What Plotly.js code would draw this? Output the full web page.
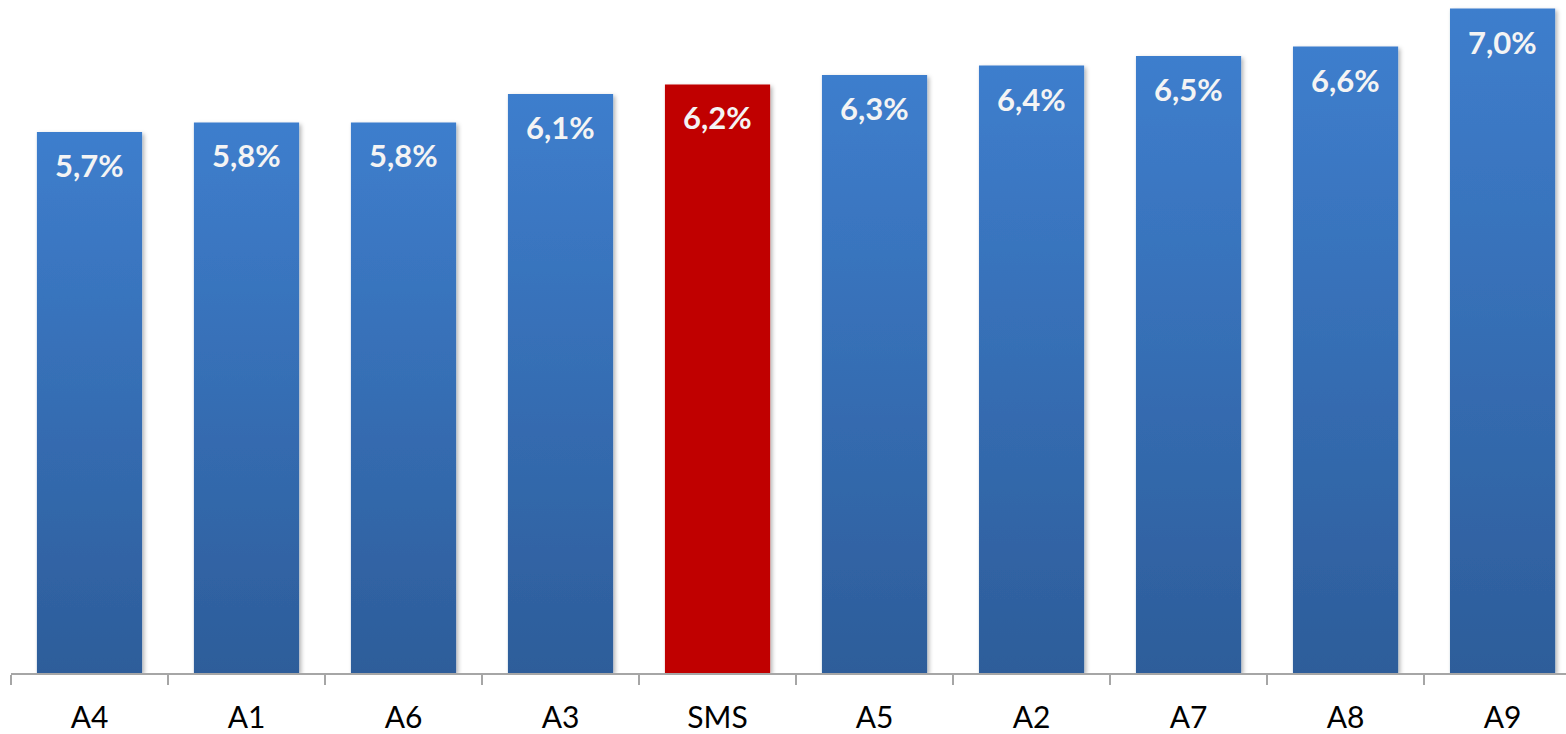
<!DOCTYPE html>
<html>
<head>
<meta charset="utf-8">
<script src="https://cdn.plot.ly/plotly-3.0.1.min.js"></script>
<style>
  html, body { margin: 0; padding: 0; background: #ffffff; }
  #chart { width: 1566px; height: 734px; }
</style>
</head>
<body>
<div id="chart"></div>
<script>
// Share per entity, sorted ascending
const categories = ['A4', 'A1', 'A6', 'A3', 'SMS', 'A5', 'A2', 'A7', 'A8', 'A9'];
const shares = [5.7, 5.8, 5.8, 6.1, 6.2, 6.3, 6.4, 6.5, 6.6, 7.0];
const highlighted = 'SMS';

const BLUE = '#3773C0';
const RED = '#C00000';
const FONT = 'Lato, "Open Sans", sans-serif';

const fmt = v => v.toFixed(1).replace('.', ',') + '%';

const barColors = categories.map(c => (c === highlighted ? RED : BLUE));

const trace = {
  type: 'bar',
  x: categories,
  y: shares,
  marker: { color: barColors, line: { width: 0 } },
  hoverinfo: 'skip'
};

// Value labels sit just inside the top of each bar
const labels = categories.map((c, i) => ({
  x: c,
  y: shares[i],
  xref: 'x',
  yref: 'y',
  text: '<b>' + fmt(shares[i]) + '</b>',
  showarrow: false,
  yanchor: 'top',
  yshift: -12,
  font: { family: FONT, size: 31, color: '#F4F4F4' }
}));

const layout = {
  width: 1566,
  height: 734,
  margin: { l: 11, r: 0, t: 0, b: 61 },
  paper_bgcolor: '#ffffff',
  plot_bgcolor: '#ffffff',
  bargap: 0.33,
  showlegend: false,
  xaxis: {
    type: 'category',
    range: [-0.5, 9.404],
    showline: true,
    linecolor: '#A6A6A6',
    linewidth: 2,
    ticks: 'outside',
    tickson: 'boundaries',
    ticklen: 10,
    tickwidth: 2,
    tickcolor: '#A6A6A6',
    ticklabelstandoff: 17,
    showgrid: false,
    zeroline: false,
    tickfont: { family: FONT, size: 30, color: '#000000' },
    fixedrange: true
  },
  yaxis: {
    range: [0, 7.09],
    visible: false,
    showgrid: false,
    zeroline: false,
    fixedrange: true
  },
  annotations: labels
};

Plotly.newPlot('chart', [trace], layout, { staticPlot: true, displayModeBar: false }).then(gd => {
  const svg = gd.querySelector('.main-svg');
  const ns = 'http://www.w3.org/2000/svg';
  let defs = svg.querySelector('defs');
  if (!defs) { defs = document.createElementNS(ns, 'defs'); svg.insertBefore(defs, svg.firstChild); }

  // vertical shading for the blue bars: lighter at the top, deeper at the base
  const grad = document.createElementNS(ns, 'linearGradient');
  grad.setAttribute('id', 'barShade');
  grad.setAttribute('x1', '0'); grad.setAttribute('y1', '0');
  grad.setAttribute('x2', '0'); grad.setAttribute('y2', '1');
  [['0%', '#3E7ECD'], ['100%', '#2D5D9A']].forEach(([off, col]) => {
    const s = document.createElementNS(ns, 'stop');
    s.setAttribute('offset', off);
    s.setAttribute('stop-color', col);
    grad.appendChild(s);
  });
  defs.appendChild(grad);

  // soft shadow cast down and to the right
  const filt = document.createElementNS(ns, 'filter');
  filt.setAttribute('id', 'barShadow');
  filt.setAttribute('x', '-10%'); filt.setAttribute('y', '-10%');
  filt.setAttribute('width', '130%'); filt.setAttribute('height', '120%');
  const ds = document.createElementNS(ns, 'feDropShadow');
  ds.setAttribute('dx', '2'); ds.setAttribute('dy', '2');
  ds.setAttribute('stdDeviation', '2');
  ds.setAttribute('flood-color', '#000000');
  ds.setAttribute('flood-opacity', '0.3');
  filt.appendChild(ds);
  defs.appendChild(filt);

  gd.querySelectorAll('.trace.bars .point path').forEach((p, i) => {
    if (categories[i] !== highlighted) p.style.fill = 'url(#barShade)';
    p.setAttribute('filter', 'url(#barShadow)');
  });
});
</script>
</body>
</html>
